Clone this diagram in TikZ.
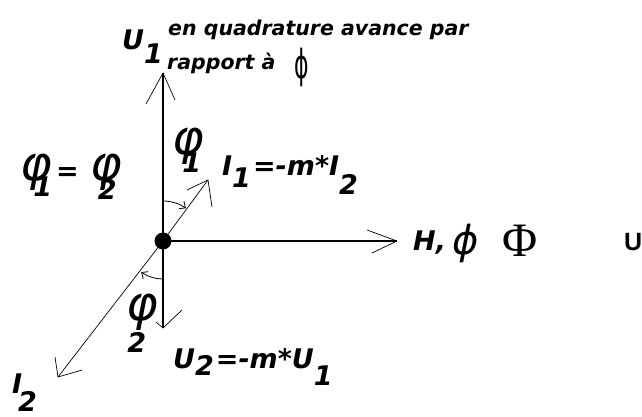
\documentclass[tikz,border=0pt]{standalone}
\usepackage{fontspec}
\setmainfont{DejaVu Sans}
\newfontfamily\lsans{Liberation Sans}
\newfontfamily\lserif{Liberation Serif}
\usetikzlibrary{arrows.meta}
\newcommand\lowr[2][10pt]{\raisebox{-#1}{#2}}
\newcommand\phfont{\fontsize{48}{50}\selectfont\mdseries}
\tikzset{
  lbl/.style={inner sep=0pt, anchor=base west, font=\fontsize{27}{29}\selectfont\bfseries\itshape},
  txt/.style={inner sep=0pt, anchor=base west, font=\fontsize{20.5}{22}\selectfont\bfseries\itshape},
  axisline/.style={line width=1.2pt},
  vecline/.style={line width=0.7pt},
  barb/.style={line width=0.7pt},
  arcarrow/.style={line width=0.8pt, -{Straight Barb[length=5pt,width=9pt]}},
}
\begin{document}
\begin{tikzpicture}[x=1pt,y=-1pt]
\useasboundingbox[fill=white] (0,0) rectangle (642,417);
% origin and vector tips
\node[circle,fill=black,inner sep=0pt,minimum size=17pt] (O) at (163,241) {};
\coordinate (U1t) at (163,73);
\coordinate (U2t) at (163,328);
\coordinate (Ht) at (397,241);
\coordinate (I1t) at (208,180);
\coordinate (I2t) at (58,377);
% axes and vectors
\draw[axisline] (O.center) -- (U1t);
\draw[axisline] (O.center) -- (U2t);
\draw[axisline] (O.center) -- (Ht);
\draw[vecline] (O.center) -- (I1t);
\draw[vecline] (O.center) -- (I2t);
% arrow barbs
\draw[barb] (U1t) -- ++(-17,31) (U1t) -- ++(12,27);
\draw[barb] (Ht) -- ++(-30,-11) (Ht) -- ++(-25,12);
\draw[barb] (U2t) -- ++(19,-18) (U2t) -- ++(-7,-6);
\draw[barb] (I1t) -- ++(-21,10) (I1t) -- ++(4,27);
\draw[barb] (I2t) -- ++(-3,-20) (I2t) -- ++(24,-7);
% angle arcs
\draw[arcarrow] (163,201) arc[start angle=-90,end angle=-55,radius=40];
\draw[arcarrow] (163,279) arc[start angle=90,end angle=125,radius=38];
% texts
\node[lbl] (u1) at (122,50) {U\lowr[14pt]{1}};
\node[txt] (q1) at (168,36) {en quadrature avance par};
\node[txt] (q2) at (167,70) {rapport à};
\node[inner sep=0pt, font=\fontsize{40}{42}\selectfont] (phtop) at (302,67) {\scalebox{0.55}[1]{ϕ}};
\node[lbl] (pleft) at (20,180) {{\phfont φ}\kern-18.5pt\lowr[16pt]{1}\kern4pt=\kern12pt{\phfont φ}\kern-24.5pt\lowr[19pt]{2}};
\node[lbl] (pa1) at (172,154) {{\phfont φ}\kern-21.5pt\lowr[18pt]{1}};
\node[lbl] (pa2) at (126,320) {{\phfont φ}\kern-30.5pt\lowr[32pt]{2}};
\node[lbl] (i1) at (222,175) {I\lowr[12pt]{1}\kern2pt=-m*I\lowr[20pt]{2}};
\node[lbl] (hh) at (413,250) {H,};
\node[inner sep=0pt, anchor=base west, font=\fontsize{40}{42}\selectfont\itshape] (hphi) at (452,254) {ϕ};
\node[inner sep=0pt, anchor=base west, font=\lserif\fontsize{48}{50}\selectfont] (hPhi) at (502,256) {Φ};
\node[inner sep=0pt, anchor=base west, font=\lsans\fontsize{25}{27}\selectfont\bfseries] (uu) at (624,250) {U};
\node[lbl] (u2) at (173,368) {U\lowr[7pt]{2}\kern2pt=-m*U\lowr[17pt]{1}};
\node[lbl] (i2) at (12,393) {I\kern-4pt\lowr[18pt]{2}};
\end{tikzpicture}
\end{document}
